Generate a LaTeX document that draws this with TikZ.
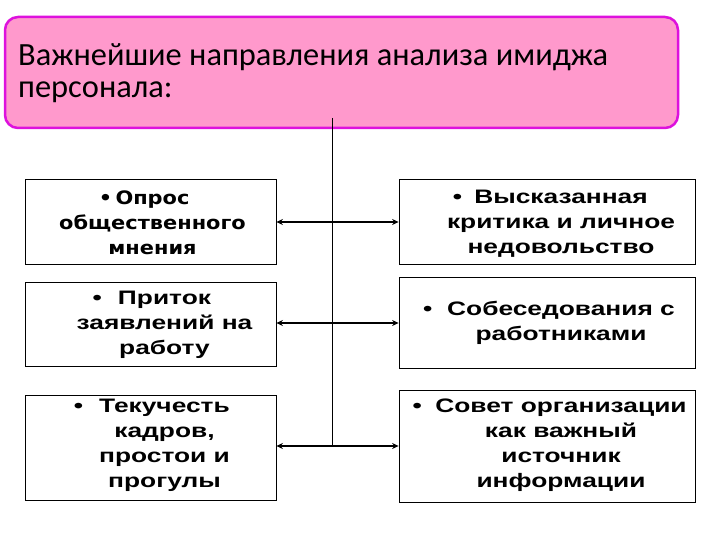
\documentclass[tikz,border=0pt]{standalone}
\usepackage{fontspec}
\setmainfont{Liberation Sans}
\newfontfamily\titlefont{Carlito}
\newfontfamily\pollfont{DejaVu Sans}
\usetikzlibrary{arrows.meta,positioning,calc}

\definecolor{titlepink}{HTML}{FF99CC}
\definecolor{titleedge}{HTML}{DD11DD}

\begin{document}
\begin{tikzpicture}[x=1pt,y=-1pt,
    box/.style={draw, line width=0.8pt, inner sep=0pt},
    boxtext/.style={align=center, xscale=1.35, transform shape, inner sep=0pt,
        font=\fontsize{19.5}{25}\selectfont\bfseries},
    link/.style={{Stealth[length=6.5pt,width=6pt]}-{Stealth[length=6.5pt,width=6pt]}, line width=1.6pt}]
    \useasboundingbox (0,0) rectangle (720,540);

    % Title
    \node[draw=titleedge, fill=titlepink, line width=2.5pt, rounded corners=13pt,
        minimum width=673pt, minimum height=111pt, inner sep=0pt] (title) at (341.5,72.5) {};
    \node[anchor=north west, align=left, inner sep=0pt,
        font=\titlefont\fontsize{32.4}{32.6}\selectfont] (titletext) at (18,43)
        {Важнейшие направления анализа имиджа\\персонала:};

    % Left column
    \node[box, minimum width=251pt, minimum height=85pt] (l1) at (150.5,222) {};
    \node[boxtext, xscale=1.13/1.35, font=\pollfont\fontsize{18.5}{25}\selectfont\bfseries] (l1text)
        at ([xshift=2pt,yshift=-1pt]l1.center) {\llap{•\hspace{3pt}}Опрос\\общественного\\мнения};
    \node[box, minimum width=251pt, minimum height=84pt] (l2) at (150.5,324) {};
    \node[boxtext] (l2text) at ([xshift=14pt,yshift=-1pt]l2.center)
        {\llap{•\hspace{12pt}}Приток\\заявлений на\\работу};
    \node[box, minimum width=251pt, minimum height=105pt] (l3) at (150.5,447.5) {};
    \node[boxtext] (l3text) at ([xshift=14pt,yshift=2pt]l3.center)
        {\llap{•\hspace{12pt}}Текучесть\\кадров,\\простои и\\прогулы};

    % Right column
    \node[box, minimum width=296pt, minimum height=85pt] (r1) at (547,222) {};
    \node[boxtext] (r1text) at ([xshift=14pt,yshift=-2pt]r1.center)
        {\llap{•\hspace{9pt}}Высказанная\\критика и личное\\недовольство};
    \node[box, minimum width=296pt, minimum height=91pt] (r2) at (547,322.5) {};
    \node[boxtext] (r2text) at ([xshift=14pt]r2.center)
        {\llap{•\hspace{11pt}}Собеседования с\\работниками};
    \node[box, minimum width=296pt, minimum height=112pt] (r3) at (547,446) {};
    \node[boxtext] (r3text) at ([xshift=14pt,yshift=1pt]r3.center)
        {\llap{•\hspace{10pt}}Совет организации\\как важный\\источник\\информации};

    % Connectors
    \coordinate (stem) at (332,118);
    \draw[line width=0.8pt] (stem) -- (stem |- r3.west);
    \draw[link] (l1.east) -- (r1.west);
    \draw[link] (l2.east |- 0,323) -- (r2.west |- 0,323);
    \draw[link] (l3.east |- r3.west) -- (r3.west);
\end{tikzpicture}
\end{document}
